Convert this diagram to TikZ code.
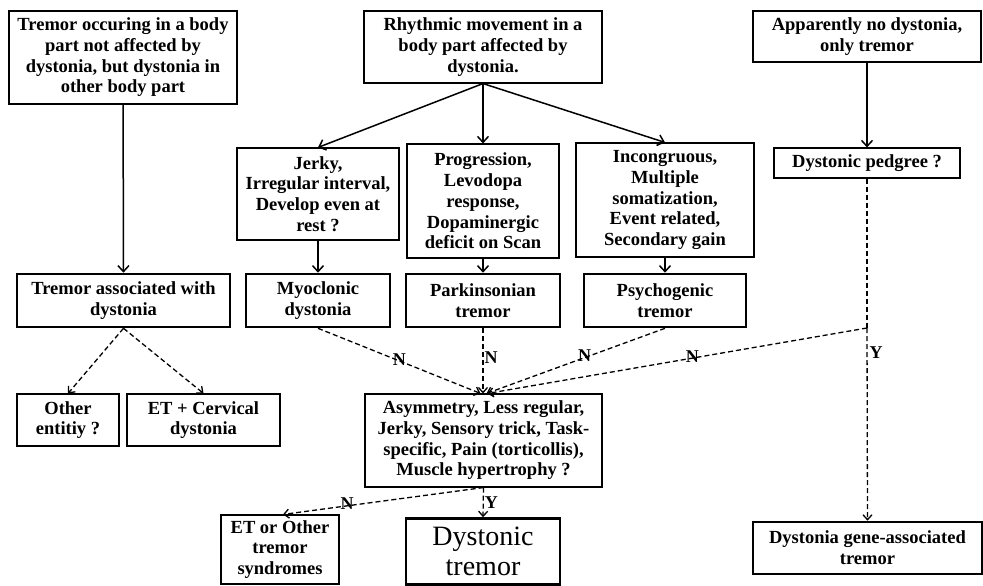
\documentclass[tikz,border=0pt]{standalone}
\usepackage{fontspec}
\setmainfont{Liberation Serif}
\usetikzlibrary{arrows.meta}

\begin{document}
\begin{tikzpicture}[x=1pt, y=-1pt,
    box/.style = {shape=rectangle, draw, line width=1.1pt, align=center,
                  inner sep=0pt, font=\fontsize{18.5}{20.7}\selectfont\bfseries},
    keybox/.style = {box, line width=2.6pt},
    solidarr/.style = {line width=1.5pt, -{Straight Barb[length=6pt,width=11pt]}},
    dasharr/.style = {line width=1.3pt, dash pattern=on 5pt off 3pt,
                      -{Straight Barb[length=5pt,width=9pt]}},
    lab/.style = {font=\fontsize{18}{20}\selectfont\bfseries, inner sep=1pt}]
  \useasboundingbox (0,0) rectangle (983,586);

  % top row
  \node[box, minimum width=228pt, minimum height=93pt] (outside) at (123,57.5)
    {Tremor occuring in a body\\ part not affected by\\ dystonia, but dystonia in\\ other body part};
  \node[box, minimum width=238pt, minimum height=72pt] (rhythm) at (483,47)
    {Rhythmic movement in a\\ body part affected by\\ dystonia.};
  \node[box, minimum width=228pt, minimum height=51pt] (notrem) at (867,36.5)
    {Apparently no dystonia,\\ only tremor};

  % second row
  \node[box, minimum width=162pt, minimum height=92pt] (jerky) at (318,194)
    {Jerky,\\ Irregular interval,\\ Develop even at\\ rest ?};
  \node[box, minimum width=152pt, minimum height=114pt] (progr) at (483,201)
    {Progression,\\ Levodopa\\ response,\\ Dopaminergic\\ deficit on Scan};
  \node[box, minimum width=178pt, minimum height=114pt] (incong) at (665,200)
    {Incongruous,\\ Multiple\\ somatization,\\ Event related,\\ Secondary gain};
  \node[box, minimum width=186pt, minimum height=30pt] (pedgree) at (867,163)
    {Dystonic pedgree ?};

  % diagnoses
  \node[keybox, minimum width=213pt, minimum height=53pt] (assoc) at (123.5,300.5)
    {Tremor associated with\\ dystonia};
  \node[keybox, minimum width=144pt, minimum height=53pt] (myoc) at (318,300.5)
    {Myoclonic\\ dystonia};
  \node[keybox, minimum width=154pt, minimum height=53pt] (parkin) at (483,300.5)
    {Parkinsonian\\ tremor};
  \node[keybox, minimum width=162pt, minimum height=53pt] (psycho) at (665,300.5)
    {Psychogenic\\ tremor};

  \node[box, minimum width=102pt, minimum height=52pt] (other) at (68,420)
    {Other\\ entitiy ?};
  \node[box, minimum width=153pt, minimum height=52pt] (etcd) at (203.5,420)
    {ET + Cervical\\ dystonia};
  \node[box, minimum width=237pt, minimum height=93pt] (asym) at (483.5,440.5)
    {Asymmetry, Less regular,\\ Jerky, Sensory trick, Task-\\ specific, Pain (torticollis),\\ Muscle hypertrophy ?};

  \node[box, minimum width=118pt, minimum height=69pt] (etother) at (280,549.5)
    {ET or Other\\ tremor\\ syndromes};
  \node[keybox, minimum width=154pt, minimum height=66pt,
        font=\fontsize{28}{30}\selectfont] (dystrem) at (483,551.5)
    {Dystonic\\ tremor};
  \node[keybox, minimum width=229pt, minimum height=52pt] (gene) at (867.5,548)
    {Dystonia gene-associated\\ tremor};

  \coordinate (split) at (867,328);

  % solid arrows
  \draw[solidarr] (outside) -- (assoc);
  \draw[solidarr] (rhythm.south) -- (jerky.north);
  \draw[solidarr] (rhythm.south) -- (progr.north);
  \draw[solidarr] (rhythm.south) -- (incong.north);
  \draw[solidarr] (notrem) -- (pedgree);
  \draw[solidarr] (jerky) -- (myoc);
  \draw[solidarr] (progr) -- (parkin);
  \draw[solidarr] (incong) -- (psycho);

  % dashed arrows
  \draw[dasharr] (assoc.south) -- (other.north);
  \draw[dasharr] (assoc.south) -- (etcd.north);
  \draw[dasharr] (myoc.south) -- ([xshift=-3pt]asym.north)
    node[lab, pos=.5, above=-6pt] {N};
  \draw[dasharr] (parkin.south) -- (parkin.south |- asym.north)
    node[lab, pos=.45, right=0pt] {N};
  \draw[dasharr] (psycho.south) -- ([xshift=3pt]asym.north)
    node[lab, pos=.45, above=-6pt] {N};
  \draw[dasharr, -] (pedgree.south) -- (split);
  \draw[dasharr] (split) -- ([xshift=4pt]asym.north)
    node[lab, pos=.46, above=-6pt] {N};
  \draw[dasharr] (split) -- (gene.north)
    node[lab, pos=.13, right=1pt] {Y};
  \draw[dasharr] (asym.south) -- ([xshift=3pt]etother.north)
    node[lab, pos=.68, above=-5pt] {N};
  \draw[dasharr] (asym.south) -- (dystrem.north)
    node[lab, pos=.5, right=0pt] {Y};
\end{tikzpicture}
\end{document}
